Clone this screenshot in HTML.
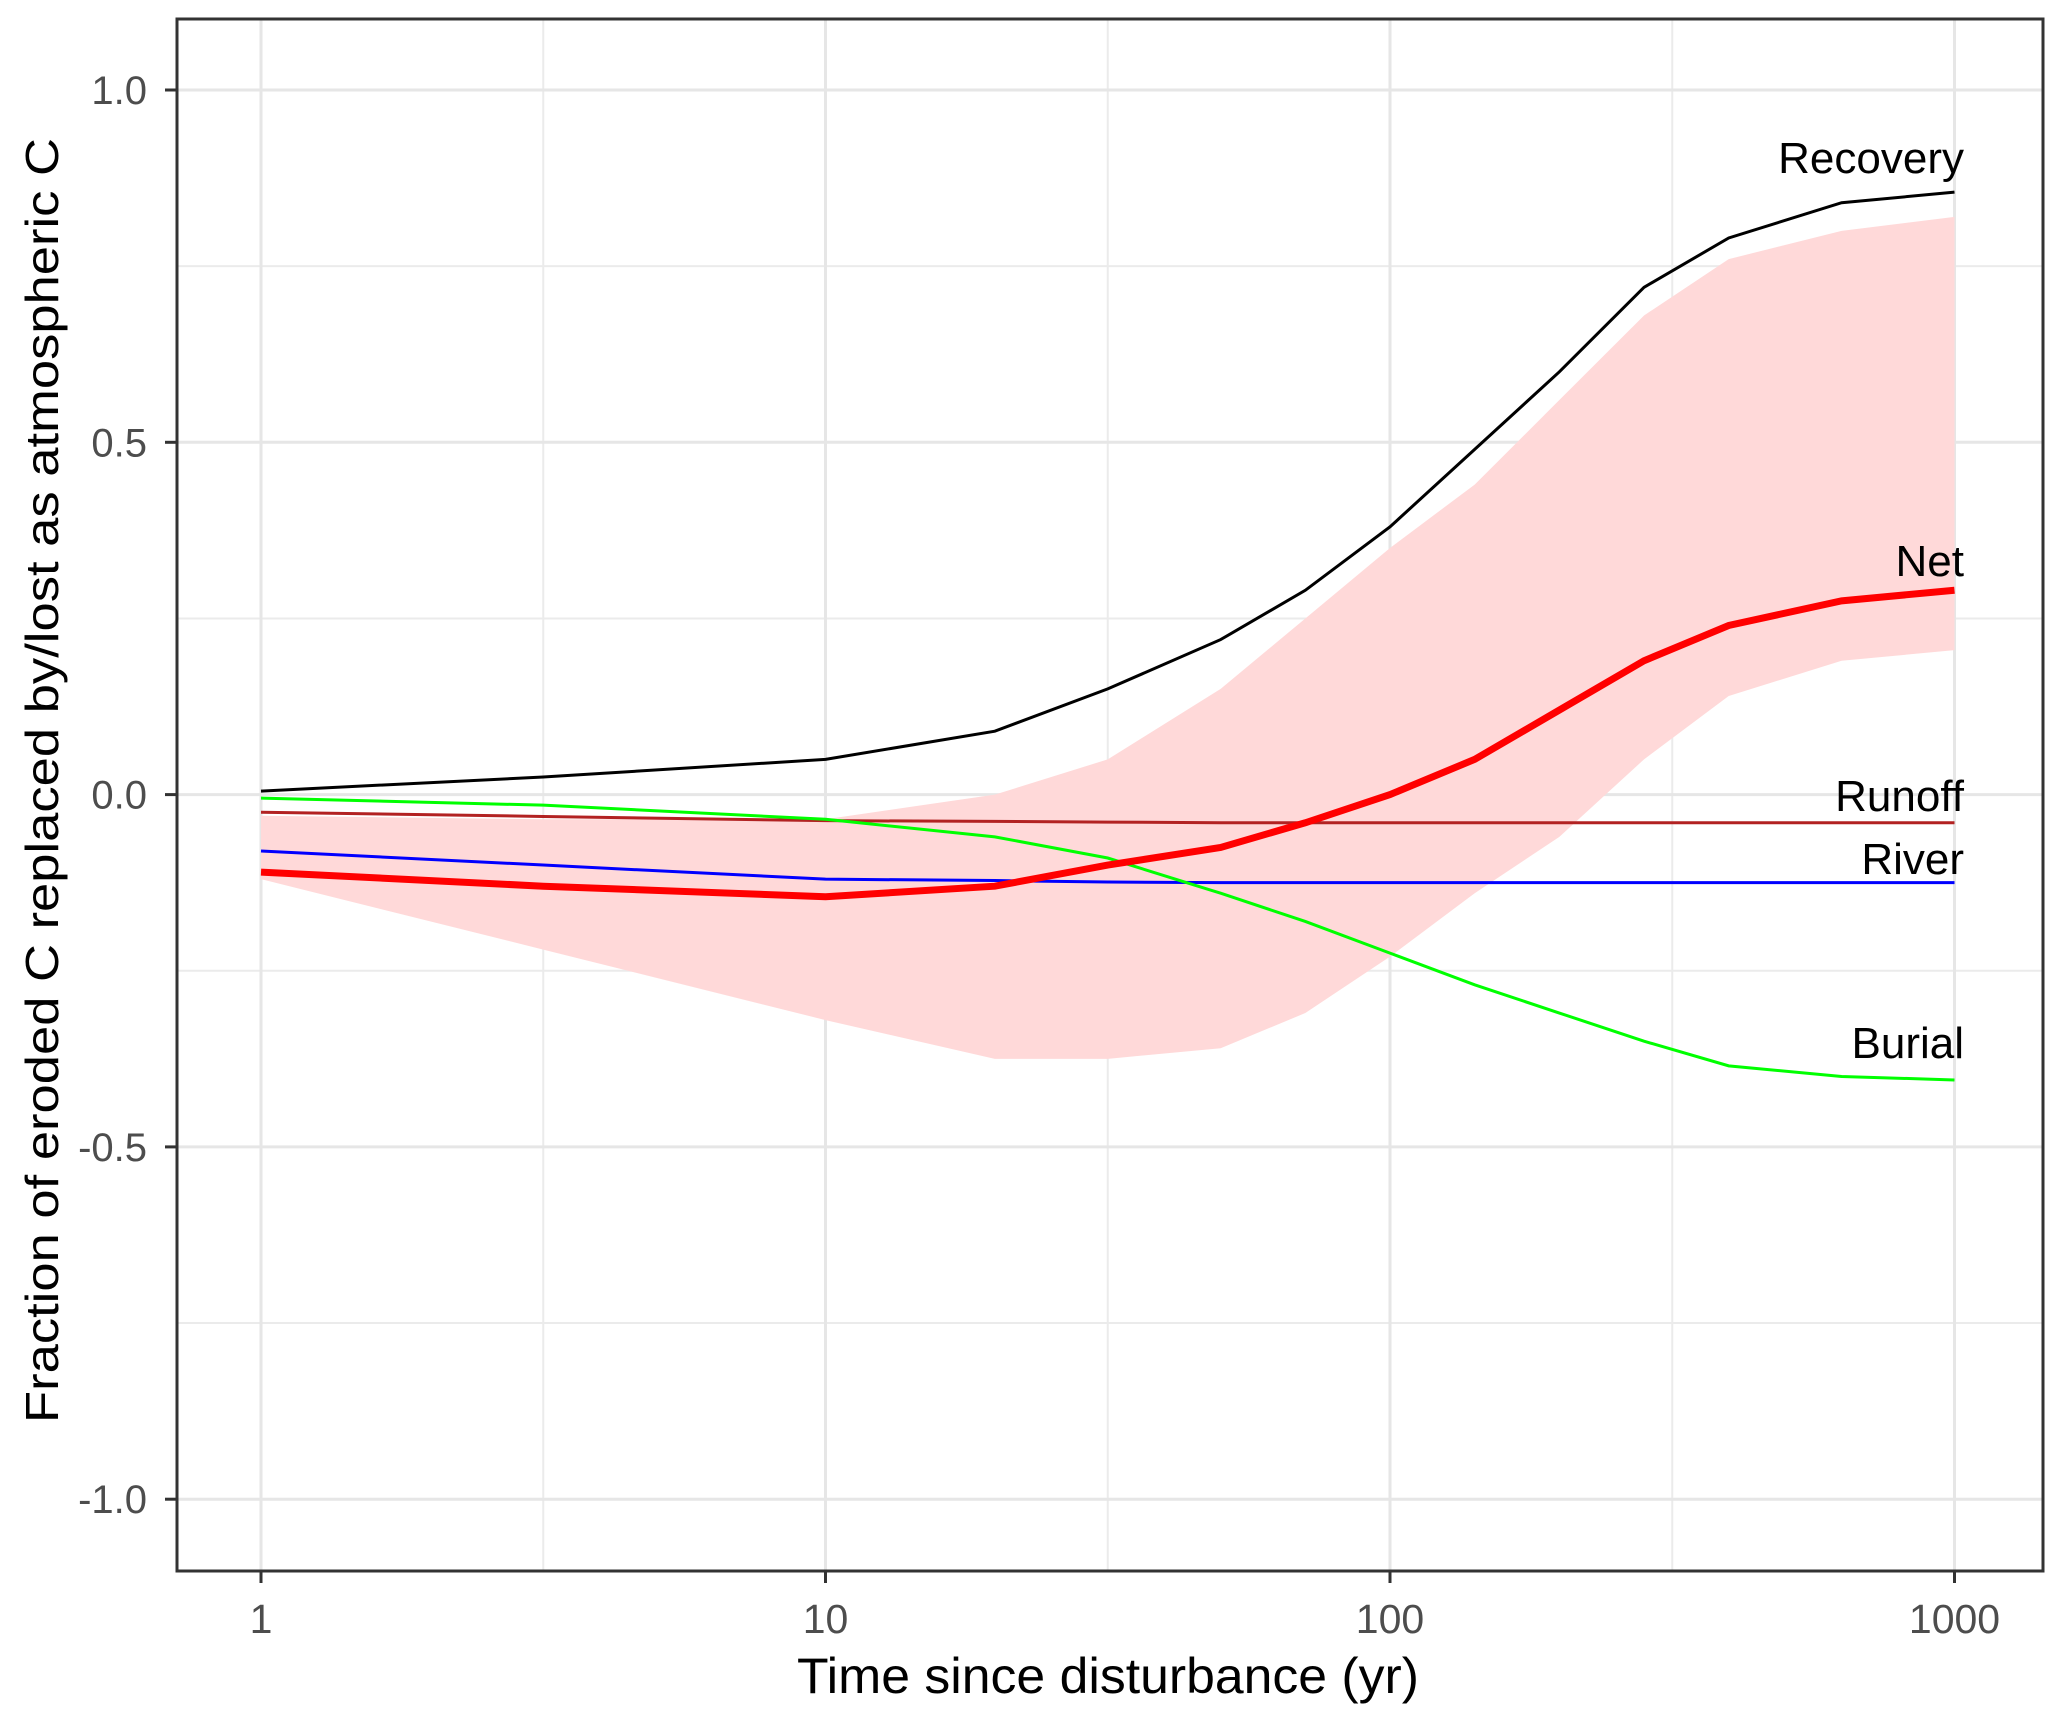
<!DOCTYPE html>
<html><head><meta charset="utf-8"><style>
html,body{margin:0;padding:0;background:#fff;}
svg{display:block;font-family:"Liberation Sans",sans-serif;}
</style></head><body>
<svg id="chart" width="2067" height="1723" viewBox="0 0 2067 1723" xmlns="http://www.w3.org/2000/svg">
<g id="grid"></g>
<g id="marks"></g>
<g id="axes"></g>
</svg>
<script>
const xTicks=[1,10,100,1000];
const xTickLabels=["1","10","100","1000"];
const yTicks=[-1,-0.5,0,0.5,1];
const yTickLabels=["-1.0","-0.5","0.0","0.5","1.0"];
const logT=[0,0.5,1,1.3,1.5,1.7,1.85,2,2.15,2.3,2.45,2.6,2.8,3];
const recovery=[0.005,0.025,0.05,0.09,0.15,0.22,0.29,0.38,0.49,0.6,0.72,0.79,0.84,0.855];
const net=[-0.11,-0.13,-0.145,-0.13,-0.1,-0.075,-0.04,0.0,0.05,0.12,0.19,0.24,0.275,0.29];
const ribbonUpper=[-0.03,-0.035,-0.035,0.0,0.05,0.15,0.25,0.35,0.44,0.56,0.68,0.76,0.80,0.82];
const ribbonLower=[-0.12,-0.22,-0.32,-0.375,-0.375,-0.36,-0.31,-0.23,-0.14,-0.06,0.05,0.14,0.19,0.205];
const burial=[-0.005,-0.015,-0.035,-0.06,-0.09,-0.14,-0.18,-0.225,-0.27,-0.31,-0.35,-0.385,-0.4,-0.405];
const runoff=[-0.025,-0.031,-0.037,-0.038,-0.039,-0.04,-0.04,-0.04,-0.04,-0.04,-0.04,-0.04,-0.04,-0.04];
const river=[-0.08,-0.1,-0.12,-0.122,-0.124,-0.125,-0.125,-0.125,-0.125,-0.125,-0.125,-0.125,-0.125,-0.125];

const NS="http://www.w3.org/2000/svg";
const L=177,R=2043,T=19,B=1571;
function xs(t){return 261+Math.log10(t)*564.5;}
function xl(l){return 261+l*564.5;}
function ys(v){return 794.6-v*704.6;}
function mk(tag,attrs,parent){const e=document.createElementNS(NS,tag);for(const k in attrs)e.setAttribute(k,attrs[k]);parent.appendChild(e);return e;}
const grid=document.getElementById('grid'),marks=document.getElementById('marks'),axes=document.getElementById('axes');
mk('rect',{x:L,y:T,width:R-L,height:B-T,fill:'#fff'},grid);
for(let i=0;i<xTicks.length-1;i++){const x=xs(xTicks[i]*Math.sqrt(10));const l=mk('line',{x1:x,x2:x,y1:T,y2:B,stroke:'#ebebeb','stroke-width':2},grid);}
for(let i=0;i<yTicks.length-1;i++){const y=ys((yTicks[i]+yTicks[i+1])/2);const l=mk('line',{x1:L,x2:R,y1:y,y2:y,stroke:'#ebebeb','stroke-width':2},grid);}
xTicks.forEach((t,i)=>{const x=xs(t);const l=mk('line',{x1:x,x2:x,y1:T,y2:B,stroke:'#e6e6e6','stroke-width':3},grid);
 const tk=mk('line',{x1:x,x2:x,y1:B,y2:B+12,stroke:'#333','stroke-width':3},axes);
 const tx=mk('text',{x:x,y:1633,'text-anchor':'middle','font-size':41,fill:'#4d4d4d'},axes);tx.textContent=xTickLabels[i];});
yTicks.forEach((v,i)=>{const y=ys(v);const l=mk('line',{x1:L,x2:R,y1:y,y2:y,stroke:'#e6e6e6','stroke-width':3},grid);
 const tk=mk('line',{x1:L-12,x2:L,y1:y,y2:y,stroke:'#333','stroke-width':3},axes);
 const tx=mk('text',{x:147,y:y+14,'text-anchor':'end','font-size':40,fill:'#4d4d4d'},axes);tx.textContent=yTickLabels[i];});
let d='';logT.forEach((l,i)=>{d+=(i?'L':'M')+xl(l)+','+ys(ribbonUpper[i]);});
for(let i=logT.length-1;i>=0;i--)d+='L'+xl(logT[i])+','+ys(ribbonLower[i]);
const rib=mk('path',{d:d+'Z',fill:'#ffd9d9'},marks);
function line(vals,color,w,name){const p=mk('polyline',{points:logT.map((l,i)=>xl(l)+','+ys(vals[i])).join(' '),fill:'none',stroke:color,'stroke-width':w},marks);}
line(runoff,'#b22222',3,'runoff-line');
line(river,'#0000ff',3,'river-line');
line(burial,'#00ff00',3,'burial-line');
line(recovery,'#000',3,'recovery-line');
line(net,'#ff0000',7,'net-line');
const labs=[["Recovery",173],["Net",576],["Runoff",811],["River",874],["Burial",1058]];
labs.forEach(a=>{const t=mk('text',{x:1964,y:a[1],'text-anchor':'end','font-size':44,fill:'#000'},marks);t.textContent=a[0];});
const fr=mk('rect',{x:L,y:T,width:R-L,height:B-T,fill:'none',stroke:'#333','stroke-width':3},axes);
const xt=mk('text',{x:797,y:1693,'font-size':50,fill:'#000',textLength:622,lengthAdjust:'spacingAndGlyphs'},axes);xt.textContent='Time since disturbance (yr)';
const yt=mk('text',{x:0,y:0,'font-size':46,fill:'#000',textLength:1285,lengthAdjust:'spacingAndGlyphs',transform:'translate(58,1423) rotate(-90)'},axes);yt.textContent='Fraction of eroded C replaced by/lost as atmospheric C';
</script>
</body></html>
